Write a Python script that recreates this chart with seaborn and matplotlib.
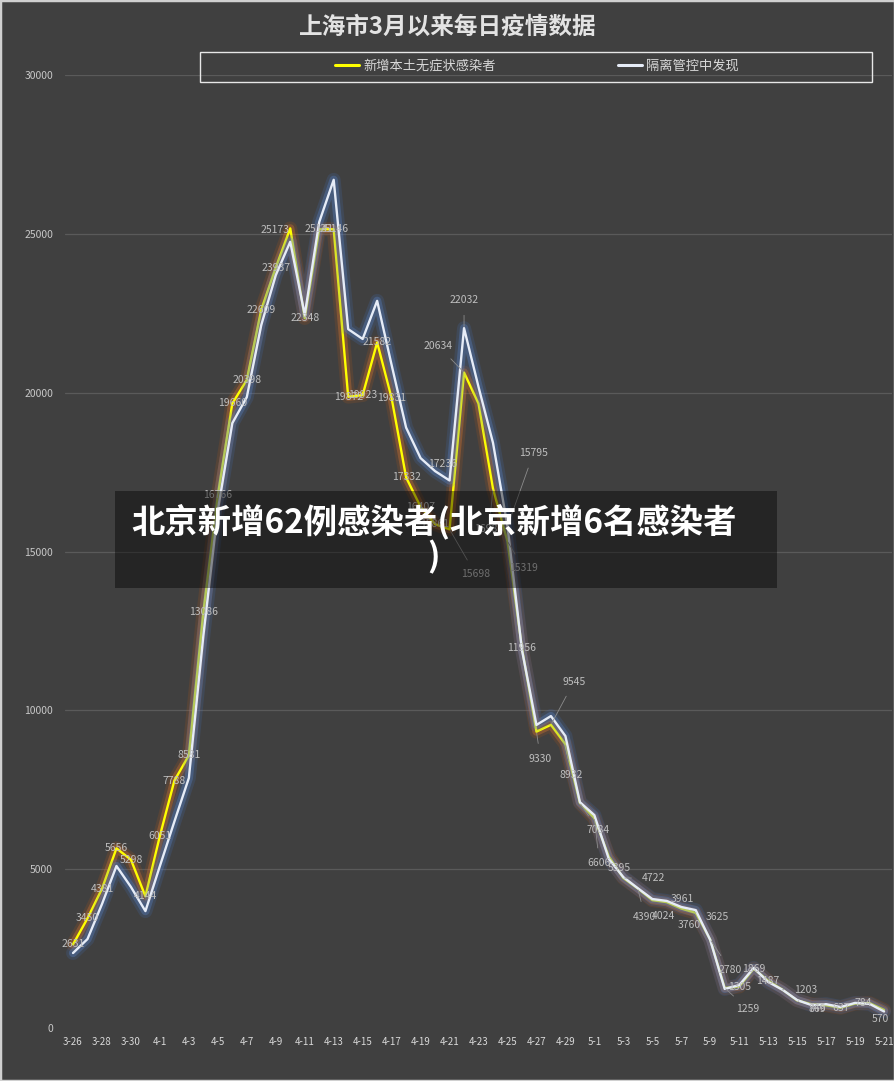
import matplotlib
matplotlib.use("Agg")
import matplotlib.pyplot as plt
import matplotlib.patheffects as pe
from matplotlib.lines import Line2D
from matplotlib.patches import Rectangle
import seaborn as sns
import pandas as pd

# ---------------- data ----------------
dates = ["3-26", "3-27", "3-28", "3-29", "3-30", "3-31",
         "4-1", "4-2", "4-3", "4-4", "4-5", "4-6", "4-7", "4-8", "4-9", "4-10",
         "4-11", "4-12", "4-13", "4-14", "4-15", "4-16", "4-17", "4-18", "4-19", "4-20",
         "4-21", "4-22", "4-23", "4-24", "4-25", "4-26", "4-27", "4-28", "4-29", "4-30",
         "5-1", "5-2", "5-3", "5-4", "5-5", "5-6", "5-7", "5-8", "5-9", "5-10",
         "5-11", "5-12", "5-13", "5-14", "5-15", "5-16", "5-17", "5-18", "5-19", "5-20", "5-21"]

asymptomatic = [2631, 3450, 4381, 5656, 5298, 4144,
                6051, 7788, 8581, 13086, 16766, 19660, 20398, 22609, 23937, 25173,
                22348, 25141, 25146, 19872, 19923, 21582, 19831, 17332, 16407, 15861,
                15698, 20634, 19657, 16983, 15319, 11956, 9330, 9545, 8932, 7084,
                6606, 5395, 4722, 4390, 4024, 3961, 3760, 3625, 2780, 1259,
                1305, 1869, 1487, 1203, 869, 746, 715, 637, 770, 784, 570]

quarantine = [2360, 2800, 3900, 5100, 4440, 3680,
              5100, 6500, 7870, 12350, 16300, 19040, 19860, 22130, 23700, 24750,
              22450, 25370, 26700, 22000, 21690, 22890, 20870, 18900, 17940, 17530,
              17236, 22032, 20180, 18420, 15795, 11900, 9540, 9820, 9190, 7110,
              6700, 5320, 4750, 4400, 4060, 4000, 3810, 3710, 2770, 1230,
              1350, 1890, 1450, 1200, 880, 720, 750, 660, 790, 760, 520]

series_names = ["新增本土无症状感染者", "隔离管控中发现"]
title_text = "上海市3月以来每日疫情数据"
banner_text = "北京新增62例感染者(北京新增6名感染者\n)"
y_ticks = [0, 5000, 10000, 15000, 20000, 25000, 30000]

# labels shown: (series, index)  -- label offsets in pixels (dx right, dy down)
skip_yellow_labels = {28, 52, 54}
white_labels = [26, 27, 30]
label_offsets = {
    ("y", 15): (-15, 2), ("y", 26): (26, 45), ("y", 27): (-26, -27),
    ("w", 27): (0, -28), ("w", 26): (-7, -16), ("w", 30): (26, -73),
    ("y", 30): (16, 27), ("y", 32): (4, 27), ("y", 33): (23, -43),
    ("y", 34): (6, 31), ("y", 35): (18, 27), ("y", 36): (5, 45),
    ("y", 37): (10, 11), ("y", 38): (30, 0), ("y", 39): (7, 28),
    ("y", 40): (11, 16), ("y", 41): (16, -3), ("y", 42): (8, 16),
    ("y", 43): (22, 4), ("y", 44): (20, 30), ("y", 45): (23, 21),
    ("y", 49): (23, 0), ("y", 50): (20, 9), ("y", 51): (6, 4),
    ("y", 55): (-6, 0), ("y", 56): (-4, 9), ("y", 29): (-4, 40),
}

# ---------------- style ----------------
sns.set_style("dark")
BG = "#404040"
plt.rcParams["font.family"] = ["Noto Sans CJK SC", "DejaVu Sans"]
plt.rcParams["axes.unicode_minus"] = False

W, H = 895, 1081
fig = plt.figure(figsize=(W / 100, H / 100), dpi=100, facecolor=BG)
ax = fig.add_axes([65 / W, 1 - 1028 / H, (892 - 65) / W, (1028 - 75) / H])
ax.set_facecolor(BG)

df = pd.DataFrame({"idx": list(range(len(dates))),
                   "yellow": asymptomatic, "white": quarantine})

yellow_fx = [pe.Stroke(linewidth=10, foreground="#c55a11", alpha=0.16),
             pe.Stroke(linewidth=6, foreground="#ed7d31", alpha=0.30),
             pe.Normal()]
white_fx = [pe.Stroke(linewidth=10, foreground="#4472c4", alpha=0.18),
            pe.Stroke(linewidth=6, foreground="#5b8bd8", alpha=0.30),
            pe.Normal()]

sns.lineplot(data=df, x="idx", y="yellow", ax=ax, color="#ffff00", lw=1.7,
             path_effects=yellow_fx, zorder=3)
sns.lineplot(data=df, x="idx", y="white", ax=ax, color="#e6ecf7", lw=1.7,
             path_effects=white_fx, zorder=4)

ax.set_xlim(-0.553, 56.55)
ax.set_ylim(0, 30000)
ax.set_yticks(y_ticks)
ax.set_yticklabels([str(v) for v in y_ticks], fontsize=7.5, color="#c8c8c8")
ax.set_xticks(list(range(0, len(dates), 2)))
ax.set_xticklabels(dates[::2], fontsize=7, color="#d9d9d9")
ax.tick_params(axis="y", length=0, pad=8.5)
ax.tick_params(axis="x", length=0, pad=6.5)
ax.set_xlabel("")
ax.set_ylabel("")
ax.grid(False)
for yv in y_ticks[1:]:
    ax.axhline(yv, color="#5a5a5a", lw=0.9, zorder=1)
for s in ax.spines.values():
    s.set_visible(False)

# ---------------- data labels ----------------
def put_label(key, i, value):
    dx, dy = label_offsets.get((key, i), (0, 0))
    far = (dx * dx + dy * dy) > 380
    kw = {}
    if far:
        kw["arrowprops"] = dict(arrowstyle="-", color="#8c8c8c", lw=0.6,
                                shrinkA=5, shrinkB=1)
    ax.annotate(str(value), xy=(i, value), xytext=(dx, -dy),
                textcoords="offset pixels", ha="center", va="center",
                fontsize=7.5, color="#bfbfbf", zorder=6, **kw)

for i, v in enumerate(asymptomatic):
    if i in skip_yellow_labels:
        continue
    put_label("y", i, v)
for i in white_labels:
    put_label("w", i, quarantine[i])

# ---------------- title & legend ----------------
fig.text(0.5, 1 - 27 / H, title_text, ha="center", va="center",
         fontsize=17, fontweight="bold", color="#e3e3e3")

fig.patches.append(Rectangle((200 / W, 1 - 82 / H), 672 / W, 30 / H,
                             transform=fig.transFigure, fill=False,
                             edgecolor="#e8e8e8", lw=1.0))
handles = [Line2D([0], [0], color="#ffff00", lw=2.2),
           Line2D([0], [0], color="#e6ecf7", lw=2.2)]
fig.legend(handles, series_names, loc="center",
           bbox_to_anchor=(537 / W, 1 - 66 / H), ncol=2, frameon=False,
           fontsize=9.5, labelcolor="#d9d9d9", handlelength=1.8,
           handletextpad=0.3, columnspacing=9.3)

# ---------------- overlay banner ----------------
fig.patches.append(Rectangle((115 / W, 1 - 588 / H), 662 / W, 97 / H,
                             transform=fig.transFigure, facecolor="black",
                             alpha=0.42, edgecolor="none", zorder=10))
fig.text(434 / W, 1 - 539 / H, banner_text, ha="center", va="center",
         multialignment="center", fontsize=24, fontweight="bold",
         color="white", linespacing=1.05, zorder=11)

# outer frame
fig.patches.append(Rectangle((0, 0), 1, 1, transform=fig.transFigure,
                             fill=False, edgecolor="#d0d0d0", lw=2.5, zorder=12))

fig.savefig("out.png", dpi=100, facecolor=BG)
